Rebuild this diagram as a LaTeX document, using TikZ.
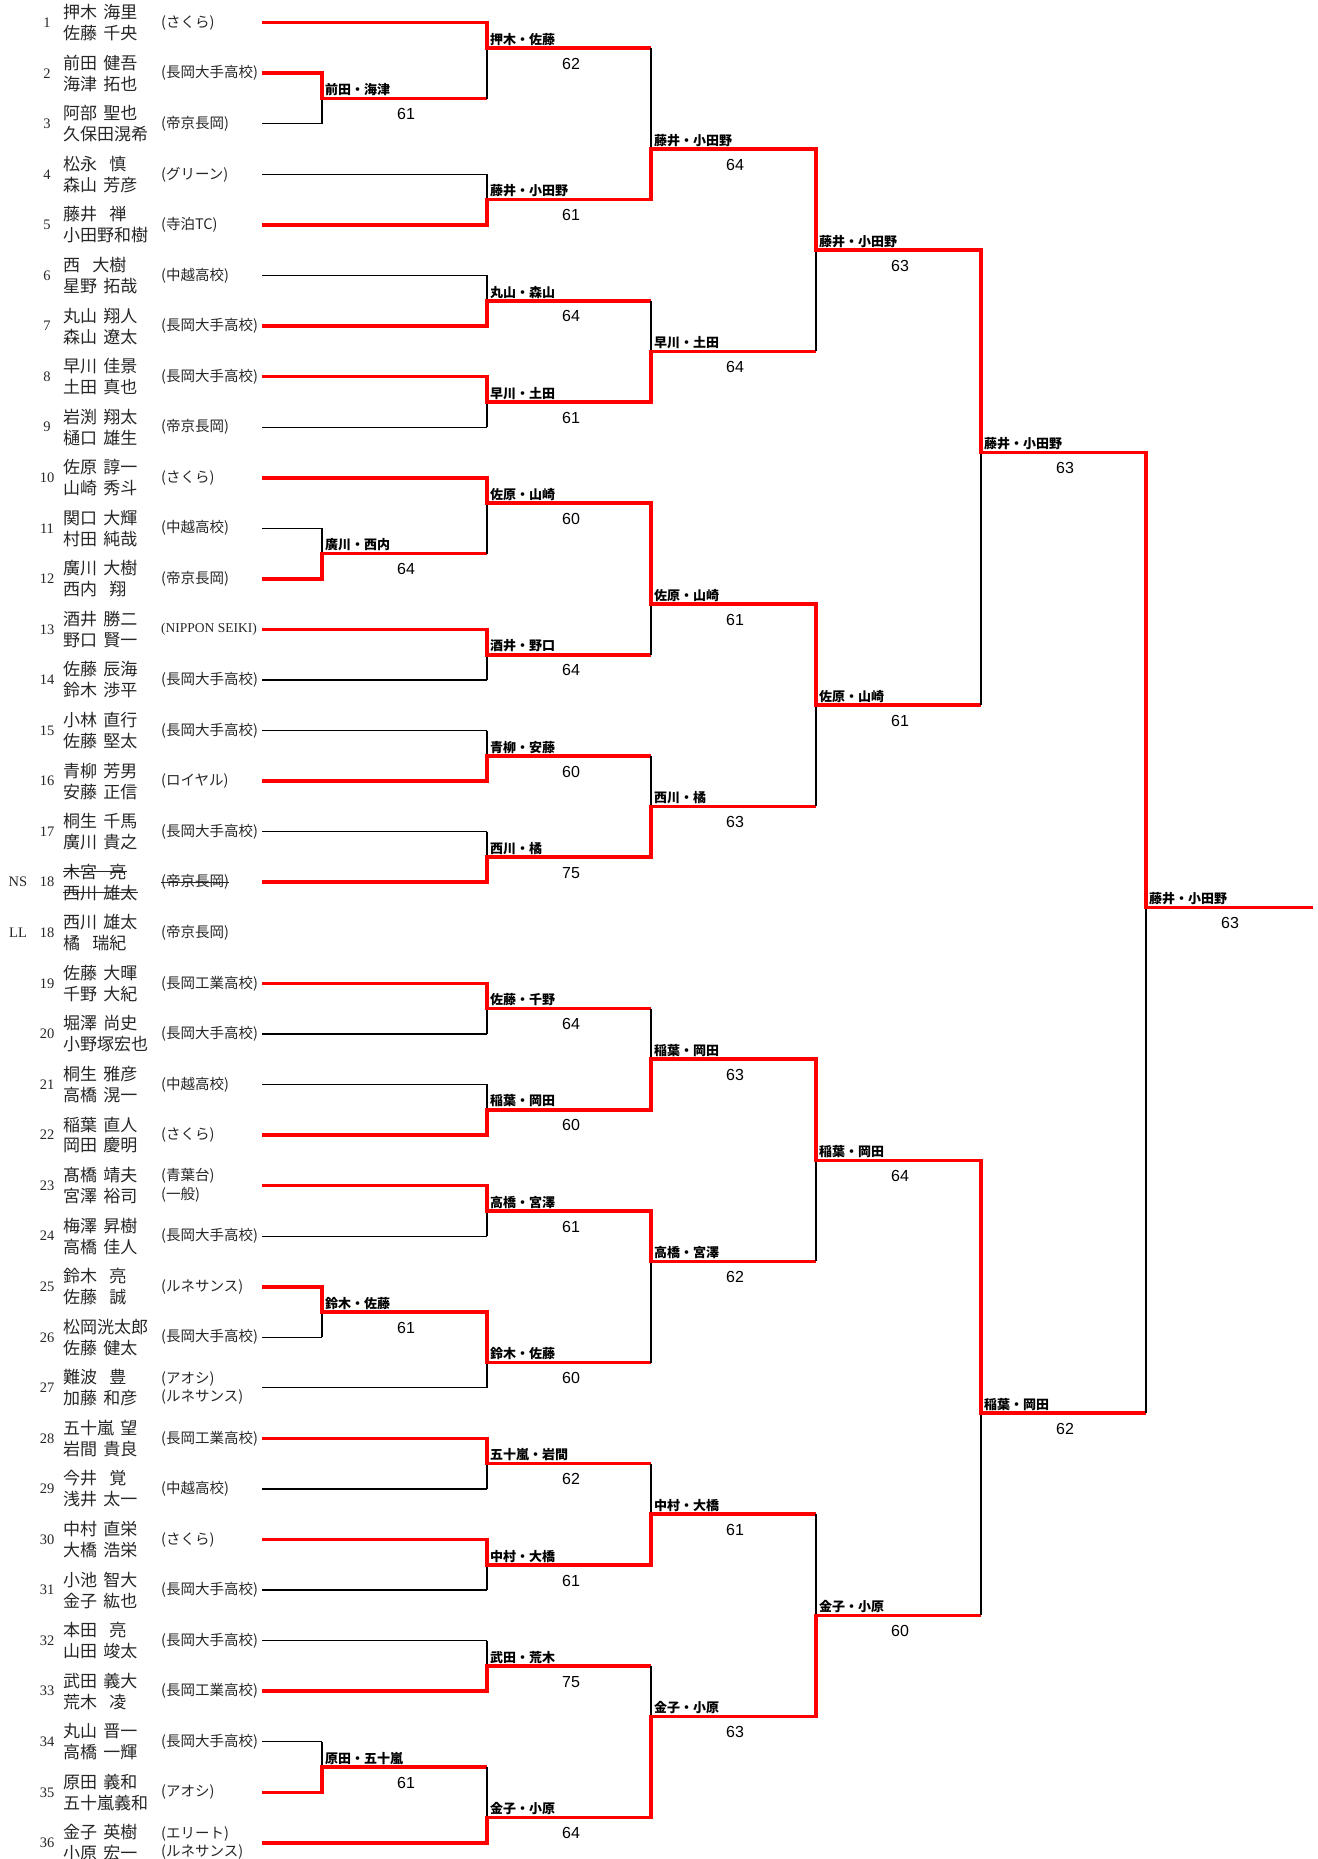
\documentclass[tikz,border=0pt]{standalone}
\usepackage{fontspec}
\setmainfont{Liberation Serif}
\newfontfamily\jpfont{Noto Sans CJK JP}
\newfontfamily\scorefont{Liberation Sans}
\newcommand\Yk[1]{(22.7+25.28*(#1))}
\newcommand\gs{\hspace{0.36em}}
\newcommand\gw{\hspace{0.72em}}
\tikzset{
 blk/.style={draw=black,line width=1.3pt},
 redh/.style={draw=red,line width=3.6pt},
 redv/.style={draw=red,line width=3.6pt,line cap=rect},
 num/.style={inner sep=0pt,font=\fontsize{14.5}{16}\selectfont,text=black!85},
 nm/.style={inner sep=0pt,anchor=west,font=\jpfont\fontsize{17}{19}\selectfont,text=black!85},
 club/.style={inner sep=0pt,anchor=west,font=\jpfont\fontsize{14.5}{16}\selectfont,text=black!85},
 lab/.style={inner sep=0pt,anchor=west,font=\jpfont\bfseries\fontsize{13}{15}\selectfont},
 sco/.style={inner sep=0pt,font=\scorefont\fontsize{16}{18}\selectfont},
 strike/.style={draw=black!85,line width=1pt},
}
\newcommand\pentry[5]{%
 \node[num] (num#1) at (47,{\Yk{#1}}) {#2};
 \node[nm] (na#1) at (63,{\Yk{#1}-10.5}) {#3};
 \node[nm] (nb#1) at (63,{\Yk{#1}+10.5}) {#4};
 \node[club] (cl#1) at (161,{\Yk{#1}}) {#5};
}
\newcommand\pentrytwo[6]{%
 \node[num] (num#1) at (47,{\Yk{#1}}) {#2};
 \node[nm] (na#1) at (63,{\Yk{#1}-10.5}) {#3};
 \node[nm] (nb#1) at (63,{\Yk{#1}+10.5}) {#4};
 \node[club] (cl#1) at (161,{\Yk{#1}-9.3}) {#5};
 \node[club] (cm#1) at (161,{\Yk{#1}+9.3}) {#6};
}
\newcommand\pleaf[3]{%
 \coordinate (ls#1) at (262,{\Yk{#1}});
 \coordinate (le#1) at (#2,{\Yk{#1}});
 \draw[#3] (ls#1) -- (le#1);
}
% #1 name, #2 x, #3 xEnd, #4 kTop, #5 kBot, #6 kOut, #7 kWin, #8 label, #9 score
\newcommand\bmatch[9]{%
 \coordinate (#1t) at (#2,{\Yk{#4}});
 \coordinate (#1b) at (#2,{\Yk{#5}});
 \coordinate (#1w) at (#2,{\Yk{#7}});
 \coordinate (#1) at (#2,{\Yk{#6}});
 \coordinate (#1e) at (#3,{\Yk{#6}});
 \draw[blk] (#1t) -- (#1b);
 \draw[redv] (#1w) -- (#1);
 \draw[redh] (#1) -- (#1e);
 \node[lab] (#1l) at ([xshift=3pt,yshift=8.7pt]#1) {#8};
 \node[sco] (#1s) at ([xshift=84pt,yshift=-15.7pt]#1) {#9};
}
\begin{document}
\begin{tikzpicture}[x=1pt,y=-1pt]
\useasboundingbox (0,0) rectangle (1317,1859);
% entries
\pentry{0}{1}{押木\gs 海里}{佐藤\gs 千央}{(さくら)}
\pentry{2}{2}{前田\gs 健吾}{海津\gs 拓也}{(長岡大手高校)}
\pentry{4}{3}{阿部\gs 聖也}{久保田滉希}{(帝京長岡)}
\pentry{6}{4}{松永\gw 慎}{森山\gs 芳彦}{(グリーン)}
\pentry{8}{5}{藤井\gw 禅}{小田野和樹}{(寺泊TC)}
\pentry{10}{6}{西\gw 大樹}{星野\gs 拓哉}{(中越高校)}
\pentry{12}{7}{丸山\gs 翔人}{森山\gs 遼太}{(長岡大手高校)}
\pentry{14}{8}{早川\gs 佳景}{土田\gs 真也}{(長岡大手高校)}
\pentry{16}{9}{岩渕\gs 翔太}{樋口\gs 雄生}{(帝京長岡)}
\pentry{18}{10}{佐原\gs 諄一}{山崎\gs 秀斗}{(さくら)}
\pentry{20}{11}{関口\gs 大輝}{村田\gs 純哉}{(中越高校)}
\pentry{22}{12}{廣川\gs 大樹}{西内\gw 翔}{(帝京長岡)}
\pentry{24}{13}{酒井\gs 勝二}{野口\gs 賢一}{\rmfamily\fontsize{13.5}{15}\selectfont(NIPPON SEIKI)}
\pentry{26}{14}{佐藤\gs 辰海}{鈴木\gs 渉平}{(長岡大手高校)}
\pentry{28}{15}{小林\gs 直行}{佐藤\gs 堅太}{(長岡大手高校)}
\pentry{30}{16}{青柳\gs 芳男}{安藤\gs 正信}{(ロイヤル)}
\pentry{32}{17}{桐生\gs 千馬}{廣川\gs 貴之}{(長岡大手高校)}
\pentry{34}{18}{木宮\gw 亮}{西川\gs 雄太}{(帝京長岡)}
\pentry{36}{18}{西川\gs 雄太}{橘\gw 瑞紀}{(帝京長岡)}
\pentry{38}{19}{佐藤\gs 大暉}{千野\gs 大紀}{(長岡工業高校)}
\pentry{40}{20}{堀澤\gs 尚史}{小野塚宏也}{(長岡大手高校)}
\pentry{42}{21}{桐生\gs 雅彦}{高橋\gs 滉一}{(中越高校)}
\pentry{44}{22}{稲葉\gs 直人}{岡田\gs 慶明}{(さくら)}
\pentrytwo{46}{23}{髙橋\gs 靖夫}{宮澤\gs 裕司}{(青葉台)}{(一般)}
\pentry{48}{24}{梅澤\gs 昇樹}{高橋\gs 佳人}{(長岡大手高校)}
\pentry{50}{25}{鈴木\gw 亮}{佐藤\gw 誠}{(ルネサンス)}
\pentry{52}{26}{松岡洸太郎}{佐藤\gs 健太}{(長岡大手高校)}
\pentrytwo{54}{27}{難波\gw 豊}{加藤\gs 和彦}{(アオシ)}{(ルネサンス)}
\pentry{56}{28}{五十嵐\gs 望}{岩間\gs 貴良}{(長岡工業高校)}
\pentry{58}{29}{今井\gw 覚}{浅井\gs 太一}{(中越高校)}
\pentry{60}{30}{中村\gs 直栄}{大橋\gs 浩栄}{(さくら)}
\pentry{62}{31}{小池\gs 智大}{金子\gs 紘也}{(長岡大手高校)}
\pentry{64}{32}{本田\gw 亮}{山田\gs 竣太}{(長岡大手高校)}
\pentry{66}{33}{武田\gs 義大}{荒木\gw 凌}{(長岡工業高校)}
\pentry{68}{34}{丸山\gs 晋一}{高橋\gs 一輝}{(長岡大手高校)}
\pentry{70}{35}{原田\gs 義和}{五十嵐義和}{(アオシ)}
\pentrytwo{72}{36}{金子\gs 英樹}{小原\gs 宏一}{(エリート)}{(ルネサンス)}
\node[num] (nslab) at (18,{\Yk{34}}) {NS};
\node[num] (lllab) at (18,{\Yk{36}}) {LL};
\draw[strike] (na34.west) -- (na34.east);
\draw[strike] (nb34.west) -- (nb34.east);
\draw[strike] (cl34.west) -- (cl34.east);
% leaves
\pleaf{0}{487}{redh}
\pleaf{2}{322}{redh}
\pleaf{4}{322}{blk}
\pleaf{6}{487}{blk}
\pleaf{8}{487}{redh}
\pleaf{10}{487}{blk}
\pleaf{12}{487}{redh}
\pleaf{14}{487}{redh}
\pleaf{16}{487}{blk}
\pleaf{18}{487}{redh}
\pleaf{20}{322}{blk}
\pleaf{22}{322}{redh}
\pleaf{24}{487}{redh}
\pleaf{26}{487}{blk}
\pleaf{28}{487}{blk}
\pleaf{30}{487}{redh}
\pleaf{32}{487}{blk}
\pleaf{34}{487}{redh}
\pleaf{38}{487}{redh}
\pleaf{40}{487}{blk}
\pleaf{42}{487}{blk}
\pleaf{44}{487}{redh}
\pleaf{46}{487}{redh}
\pleaf{48}{487}{blk}
\pleaf{50}{322}{redh}
\pleaf{52}{322}{blk}
\pleaf{54}{487}{blk}
\pleaf{56}{487}{redh}
\pleaf{58}{487}{blk}
\pleaf{60}{487}{redh}
\pleaf{62}{487}{blk}
\pleaf{64}{487}{blk}
\pleaf{66}{487}{redh}
\pleaf{68}{322}{blk}
\pleaf{70}{322}{redh}
\pleaf{72}{487}{redh}
% preliminary
\bmatch{P1}{322}{487}{2}{4}{3}{2}{前田・海津}{61}
\bmatch{P2}{322}{487}{20}{22}{21}{22}{廣川・西内}{64}
\bmatch{P3}{322}{487}{50}{52}{51}{50}{鈴木・佐藤}{61}
\bmatch{P4}{322}{487}{68}{70}{69}{70}{原田・五十嵐}{61}
% round 1
\bmatch{M1}{487}{651}{0}{3}{1}{0}{押木・佐藤}{62}
\bmatch{M2}{487}{651}{6}{8}{7}{8}{藤井・小田野}{61}
\bmatch{M3}{487}{651}{10}{12}{11}{12}{丸山・森山}{64}
\bmatch{M4}{487}{651}{14}{16}{15}{14}{早川・土田}{61}
\bmatch{M5}{487}{651}{18}{21}{19}{18}{佐原・山崎}{60}
\bmatch{M6}{487}{651}{24}{26}{25}{24}{酒井・野口}{64}
\bmatch{M7}{487}{651}{28}{30}{29}{30}{青柳・安藤}{60}
\bmatch{M8}{487}{651}{32}{34}{33}{34}{西川・橘}{75}
\bmatch{M9}{487}{651}{38}{40}{39}{38}{佐藤・千野}{64}
\bmatch{M10}{487}{651}{42}{44}{43}{44}{稲葉・岡田}{60}
\bmatch{M11}{487}{651}{46}{48}{47}{46}{高橋・宮澤}{61}
\bmatch{M12}{487}{651}{51}{54}{53}{51}{鈴木・佐藤}{60}
\bmatch{M13}{487}{651}{56}{58}{57}{56}{五十嵐・岩間}{62}
\bmatch{M14}{487}{651}{60}{62}{61}{60}{中村・大橋}{61}
\bmatch{M15}{487}{651}{64}{66}{65}{66}{武田・荒木}{75}
\bmatch{M16}{487}{651}{69}{72}{71}{72}{金子・小原}{64}
% round 2
\bmatch{N1}{651}{816}{1}{7}{5}{7}{藤井・小田野}{64}
\bmatch{N2}{651}{816}{11}{15}{13}{15}{早川・土田}{64}
\bmatch{N3}{651}{816}{19}{25}{23}{19}{佐原・山崎}{61}
\bmatch{N4}{651}{816}{29}{33}{31}{33}{西川・橘}{63}
\bmatch{N5}{651}{816}{39}{43}{41}{43}{稲葉・岡田}{63}
\bmatch{N6}{651}{816}{47}{53}{49}{47}{高橋・宮澤}{62}
\bmatch{N7}{651}{816}{57}{61}{59}{61}{中村・大橋}{61}
\bmatch{N8}{651}{816}{65}{71}{67}{71}{金子・小原}{63}
% round 3
\bmatch{Q1}{816}{981}{5}{13}{9}{5}{藤井・小田野}{63}
\bmatch{Q2}{816}{981}{23}{31}{27}{23}{佐原・山崎}{61}
\bmatch{Q3}{816}{981}{41}{49}{45}{41}{稲葉・岡田}{64}
\bmatch{Q4}{816}{981}{59}{67}{63}{67}{金子・小原}{60}
% semifinal
\bmatch{S1}{981}{1146}{9}{27}{17}{9}{藤井・小田野}{63}
\bmatch{S2}{981}{1146}{45}{63}{55}{45}{稲葉・岡田}{62}
% final
\bmatch{F}{1146}{1313}{17}{55}{35}{17}{藤井・小田野}{63}
\end{tikzpicture}
\end{document}
